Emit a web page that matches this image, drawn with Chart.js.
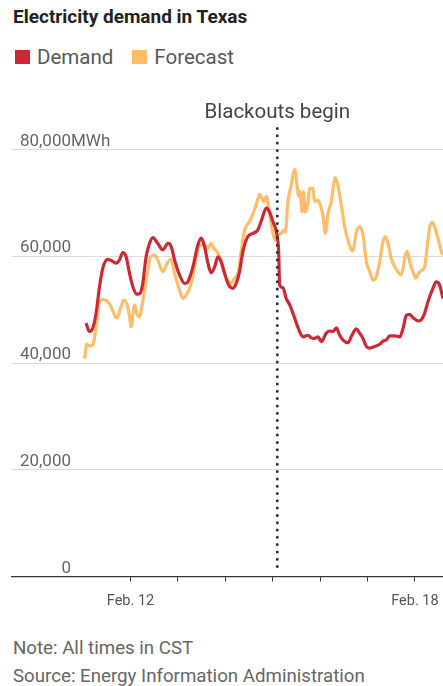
<!DOCTYPE html>
<html lang="en">
<head>
    <meta charset="UTF-8">
    <meta name="viewport" content="width=device-width, initial-scale=1.0">
    <title>Electricity demand in Texas</title>
    <script src="https://cdn.jsdelivr.net/npm/chart.js"></script>
    <style>
        body { margin: 0; width: 443px; height: 686px; background: #fff; font-family: Roboto, sans-serif; position: relative; overflow: hidden; }
        .title { position: absolute; left: 13px; top: 6px; font-size: 19px; font-weight: bold; color: #222; line-height: 22px; }
        .legend { position: absolute; left: 15px; top: 46px; font-size: 20.5px; color: #585858; line-height: 22px; display: flex; align-items: center; }
        .legend span.item { display: flex; align-items: center; margin-right: 19px; }
        .swatch { display: inline-block; width: 15px; height: 14px; margin-right: 7px; }
        .chart-box { position: absolute; left: 0; top: 80px; width: 443px; height: 545px; }
        .notes { position: absolute; left: 13px; top: 634px; font-size: 18.7px; color: #666; line-height: 28px; }
    </style>
</head>
<body>
    <div class="title">Electricity demand in Texas</div>
    <div class="legend">
        <span class="item"><span class="swatch" style="background:#cc2936"></span>Demand</span>
        <span class="item"><span class="swatch" style="background:#fdbd6b"></span>Forecast</span>
    </div>

    <div class="chart-box">
        <canvas id="demandChart" width="443" height="545"></canvas>
    </div>

    <div class="notes">
        Note: All times in CST<br>
        Source: Energy Information Administration
    </div>

    <script>
        // hours after Feb. 11 00:00 CST, values in MWh
        const demandHours = [1.5, 3.2, 4.9, 6.6, 8.3, 10, 12.5, 14.2, 16.7, 18.4, 20.1, 21.8, 23.5, 25.2, 27.2, 28.9, 30.2, 31.9, 33.6, 35.3,
            37.8, 40.4, 42.9, 44.6, 46.3, 48.8, 51.4, 53, 55.6, 58.1, 59.8, 61.5, 63.2, 64.8, 66.6, 68.2, 69.9, 71.6, 73.7, 75.8,
            77.5, 79.2, 80.9, 83.4, 86, 88.4, 90.2, 92.7, 94.4, 96.1, 97.8, 99, 99.5, 101.2, 102.8, 104.6, 107.1, 109.6, 111.3, 113.8,
            115.5, 117.2, 118.9, 120.6, 123.1, 124.8, 126.5, 128.2, 129.9, 131.6, 134.1, 136.1, 138.3, 140, 141.7, 143.4, 145.1, 147.6, 150.2, 151.8,
            153.5, 155.2, 157.8, 160.3, 162, 163.6, 165.3, 167, 169.6, 171.2, 172.9, 174.6, 177.1, 178.8, 180.5, 182.2, 183.8];
        const demandMWh = [47500, 45900, 46500, 49400, 54300, 57800, 59400, 59200, 58700, 59300, 60700, 59900, 56800, 54300, 52900, 53100, 54900, 59900, 62400, 63500,
            62400, 61200, 62400, 61800, 59300, 56500, 54900, 55200, 58000, 62100, 63400, 61800, 58700, 56900, 58000, 59900, 59000, 56800, 54600, 54000,
            54900, 57100, 60900, 63700, 64300, 64900, 66600, 69000, 68300, 66500, 64600, 60900, 54600, 54100, 52100, 50900, 48400, 45900, 44900, 45200,
            44700, 44600, 44900, 44000, 45600, 46000, 45900, 46600, 45200, 44300, 43800, 45200, 46400, 45600, 44600, 43100, 42800, 43100, 43500, 44100,
            44300, 45100, 45100, 44900, 46500, 48900, 49100, 48500, 47900, 48100, 49300, 51500, 54000, 55200, 54600, 52100, 50000];

        const forecastHours = [0.8, 1.8, 3.2, 4.9, 6.6, 8.3, 10, 12.5, 14.2, 15.9, 17.2, 18.9, 20.6, 22.3, 23.5, 24.3, 26, 27.4, 28.6, 29.7,
            31.1, 32.8, 34.1, 36.2, 37.8, 40.4, 42.6, 44.6, 46.3, 48.8, 50.5, 52.2, 54.7, 56.4, 59, 61.5, 63.2, 64.8, 66.2, 68.2,
            69.9, 71.6, 73.3, 75, 76.7, 78.4, 80, 81.8, 84.3, 86, 87.6, 89.4, 91.4, 92.8, 94.4, 96.1, 97.3, 98.6, 100.3, 101.7,
            102.4, 103.7, 105.4, 107.1, 108.3, 109.1, 109.9, 110.8, 111.6, 112.5, 113.8, 114.7, 116.4, 117.2, 118.9, 120.3, 121.4, 122.6, 124, 125.6,
            127.7, 129, 130.7, 132.7, 134.1, 135.8, 136.6, 138.3, 140, 141.7, 143.4, 145.1, 146.8, 148.5, 150.2, 151.8, 153, 154.4, 156, 157.8,
            159.4, 160.8, 162, 163.1, 164.1, 165.3, 167, 168.4, 169.9, 171.6, 172.9, 174.3, 175.5, 176.7, 178, 179.7, 181.4, 182.2, 183.7];
        const forecastMWh = [40800, 43500, 43200, 43400, 46800, 51500, 51900, 51500, 50500, 49000, 48400, 50200, 51800, 50900, 48700, 46800, 50900, 49000, 48700, 50500,
            53700, 57400, 59900, 60200, 59300, 57100, 58700, 59400, 56800, 53700, 52100, 52700, 54900, 58000, 62100, 62100, 61500, 62400, 61500, 60600,
            59000, 56800, 55500, 54900, 55900, 56800, 60900, 64900, 66500, 68000, 69600, 71600, 70200, 71200, 68000, 64300, 63000, 64000, 64300, 64900,
            64500, 70200, 73300, 76300, 73300, 71200, 72100, 68300, 72100, 68300, 69900, 72700, 72700, 70200, 70500, 69300, 67700, 64300, 68000, 70200,
            74700, 73300, 69600, 65000, 63000, 61200, 61000, 64500, 65500, 64000, 59000, 57100, 55500, 56200, 59000, 62700, 63700, 62400, 59600, 58000,
            57100, 56500, 57700, 60200, 60900, 59000, 57100, 55900, 56800, 57400, 58000, 62100, 65500, 66400, 65500, 63300, 60900, 60200, 59000];

        const dayTicks = [24, 48, 72, 96, 120, 144, 168];
        const dayLabels = { 24: 'Feb. 12', 168: 'Feb. 18' };
        const yTicks = [0, 20000, 40000, 60000, 80000];
        const yUnit = 'MWh';
        const blackoutHour = 98.3;
        const blackoutLabel = 'Blackouts begin';

        const toPoints = (xs, ys) => xs.map((h, i) => ({ x: h, y: ys[i] }));

        // y labels, dotted blackout marker and its caption
        const overlay = {
            id: 'overlay',
            afterDatasetsDraw(chart) {
                const { ctx, chartArea, scales: { x, y } } = chart;
                ctx.save();
                ctx.font = '17px Roboto';
                ctx.fillStyle = '#666';
                ctx.textBaseline = 'alphabetic';
                yTicks.forEach((v, i) => {
                    const py = y.getPixelForValue(v) - 4;
                    ctx.textAlign = 'right';
                    ctx.fillText(v.toLocaleString('en-US'), 71, py);
                    if (i === yTicks.length - 1) {
                        ctx.textAlign = 'left';
                        ctx.fillText(yUnit, 71, py);
                    }
                });

                const bx = x.getPixelForValue(blackoutHour);
                ctx.beginPath();
                ctx.setLineDash([0, 7.3]);
                ctx.lineCap = 'round';
                ctx.lineWidth = 3;
                ctx.strokeStyle = '#333';
                ctx.moveTo(bx, chartArea.top - 21);
                ctx.lineTo(bx, chartArea.bottom - 8);
                ctx.stroke();
                ctx.setLineDash([]);

                ctx.font = '20.5px Roboto';
                ctx.fillStyle = '#444';
                ctx.textAlign = 'center';
                ctx.textBaseline = 'middle';
                ctx.fillText(blackoutLabel, bx, chartArea.top - 37);
                ctx.restore();
            }
        };

        new Chart(document.getElementById('demandChart'), {
            type: 'line',
            data: {
                datasets: [
                    {
                        label: 'Demand',
                        data: toPoints(demandHours, demandMWh),
                        borderColor: '#cc2936',
                        borderWidth: 3.2,
                        pointRadius: 0,
                        cubicInterpolationMode: 'monotone',
                        fill: false
                    },
                    {
                        label: 'Forecast',
                        data: toPoints(forecastHours, forecastMWh),
                        borderColor: '#fdbd6b',
                        borderWidth: 3.2,
                        pointRadius: 0,
                        cubicInterpolationMode: 'monotone',
                        fill: false
                    }
                ]
            },
            options: {
                responsive: false,
                animation: false,
                layout: { padding: { top: 69.5, left: 0, right: 0, bottom: 0 } },
                plugins: { legend: { display: false }, tooltip: { enabled: false } },
                scales: {
                    x: {
                        type: 'linear',
                        min: -36,
                        max: 182.2,
                        afterBuildTicks: scale => { scale.ticks = dayTicks.map(v => ({ value: v })); },
                        afterFit: scale => {
                            scale.height = 48.5;
                            scale.paddingLeft = 0;
                            scale.paddingRight = 0;
                        },
                        ticks: {
                            callback: v => dayLabels[v] || '',
                            autoSkip: false,
                            maxRotation: 0,
                            padding: 11,
                            color: '#555',
                            font: { family: 'Roboto', size: 14.5 }
                        },
                        grid: { drawOnChartArea: false, drawTicks: true, tickLength: 5, color: '#333' },
                        border: { color: '#333', width: 1.3 }
                    },
                    y: {
                        min: 0,
                        max: 80000,
                        afterBuildTicks: scale => { scale.ticks = yTicks.map(v => ({ value: v })); },
                        afterFit: scale => { scale.width = 12; },
                        ticks: { display: false },
                        grid: { drawTicks: false, color: ctx => ctx.tick && ctx.tick.value === 0 ? 'rgba(0,0,0,0)' : '#dcdcdc' },
                        border: { display: false }
                    }
                }
            },
            plugins: [overlay]
        });
    </script>
</body>
</html>
